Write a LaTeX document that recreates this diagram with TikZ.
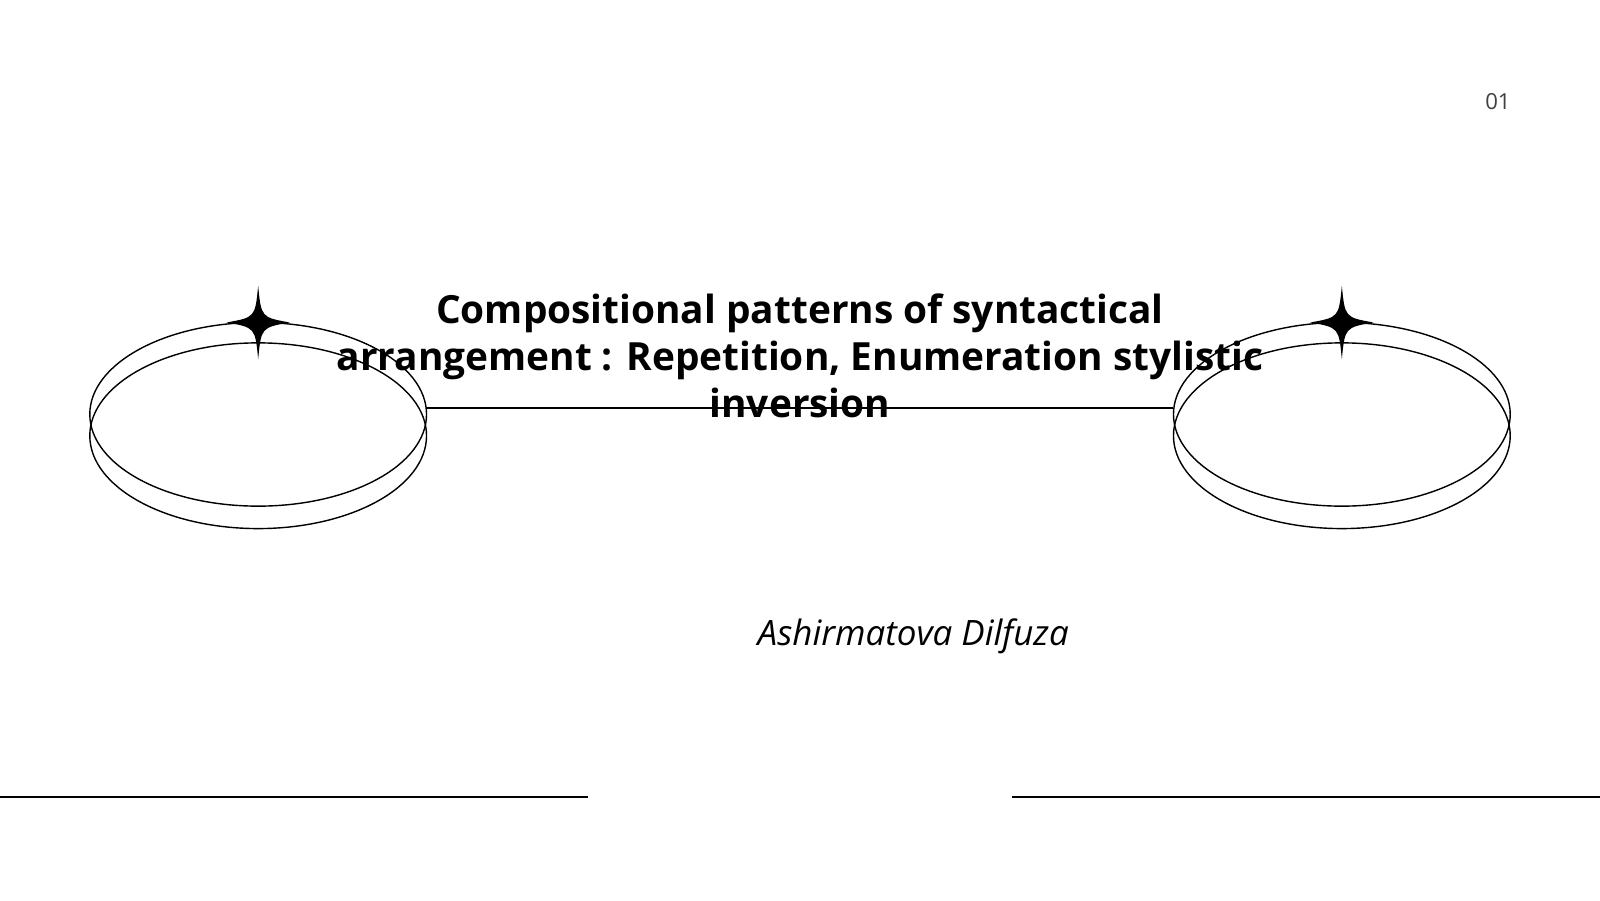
\documentclass[tikz,border=0pt]{standalone}
\usepackage{fontspec}
\setmainfont{Open Sans}
\tikzset{
  ring/.style={draw,line width=0.4pt},
  spark/.style={fill=black},
  rule/.style={line width=0.5pt}
}
\newcommand{\sparkle}[1]{%
  \fill[spark] ($(#1)+(0,-36)$) .. controls ($(#1)+(3,-5)$) .. ($(#1)+(31,0)$)
    .. controls ($(#1)+(3,5)$) .. ($(#1)+(0,36)$)
    .. controls ($(#1)+(-3,5)$) .. ($(#1)+(-31,0)$)
    .. controls ($(#1)+(-3,-5)$) .. cycle;}
\usetikzlibrary{calc}
\begin{document}
\begin{tikzpicture}[x=0.010204cm,y=-0.010204cm]
  \useasboundingbox (0,0) rectangle (1568,882);
  % rings
  \coordinate (ltop) at (253,406);
  \coordinate (lbot) at (253,427);
  \coordinate (rtop) at (1315,406);
  \coordinate (rbot) at (1315,427);
  \draw[ring] (ltop) ellipse [x radius=165,y radius=90];
  \draw[ring] (lbot) ellipse [x radius=165,y radius=91];
  \draw[ring] (rtop) ellipse [x radius=165,y radius=90];
  \draw[ring] (rbot) ellipse [x radius=165,y radius=91];
  \coordinate (lstar) at (253,316);
  \coordinate (rstar) at (1315,316);
  \sparkle{lstar}
  \sparkle{rstar}
  % link
  \coordinate (la) at (417,400);
  \coordinate (ra) at (1150,400);
  \draw[rule] (la) -- (ra);
  % texts
  \node[align=center,font=\bfseries\fontsize{11.05}{13.4}\selectfont] (title) at (784,349)
    {Compositional patterns of syntactical\\arrangement : Repetition, Enumeration stylistic\\inversion};
  \node[font=\itshape\fontsize{9.95}{12}\selectfont] (author) at (895,624) {Ashirmatova Dilfuza};
  \node[font=\fontsize{6.3}{8}\selectfont,text=black!75] (page) at (1468,100) {01};
  % bottom rules
  \coordinate (b1) at (0,781);
  \coordinate (b2) at (576,781);
  \coordinate (b3) at (992,781);
  \coordinate (b4) at (1568,781);
  \draw[rule] (b1) -- (b2);
  \draw[rule] (b3) -- (b4);
\end{tikzpicture}
\end{document}
